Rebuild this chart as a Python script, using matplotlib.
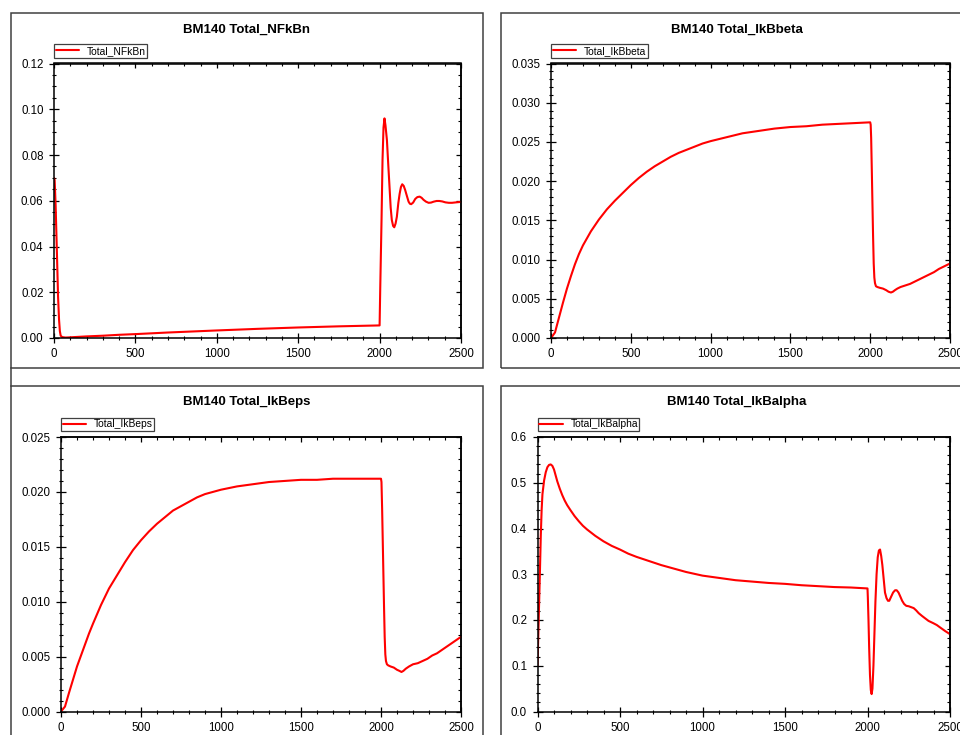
import matplotlib
matplotlib.use("Agg")
import matplotlib.pyplot as plt
from matplotlib.ticker import MultipleLocator, FormatStrFormatter
from matplotlib.patches import Rectangle
from matplotlib.lines import Line2D

plt.rcParams['font.family'] = ['Liberation Sans', 'DejaVu Sans']

# ---------------- data ----------------
t_nfkbn = [0, 4, 10, 18, 25, 31, 36, 41, 50, 70, 100, 200, 300, 400, 500, 700, 1000, 1250,
           1500, 1750, 2000, 2004, 2012, 2018, 2024, 2030, 2036, 2045, 2053, 2061, 2068, 2075,
           2083, 2090, 2098, 2106, 2115, 2123, 2131, 2139, 2148, 2157, 2168, 2178, 2186, 2194,
           2206, 2219, 2232, 2246, 2258, 2270, 2285, 2301, 2316, 2332, 2350, 2367, 2385, 2404,
           2425, 2445, 2470, 2500]
v_nfkbn = [0.070, 0.069, 0.058, 0.037, 0.018, 0.008, 0.003, 0.001, 0.0004, 0.0002, 0.0003,
           0.0007, 0.0010, 0.0014, 0.0017, 0.0024, 0.0033, 0.0040, 0.0046, 0.0051, 0.0055,
           0.022, 0.052, 0.078, 0.092, 0.096, 0.093, 0.0865, 0.076, 0.066, 0.057, 0.0516,
           0.049, 0.0484, 0.050, 0.053, 0.059, 0.063, 0.066, 0.0672, 0.0665, 0.0647, 0.062,
           0.0596, 0.0587, 0.0585, 0.0592, 0.0608, 0.0616, 0.0618, 0.0613, 0.0604, 0.0596,
           0.0591, 0.0592, 0.0596, 0.0599, 0.0599, 0.0597, 0.0593, 0.0591, 0.0591, 0.0593,
           0.0595]

t_beta = [0, 25, 50, 75, 100, 125, 150, 175, 200, 250, 300, 350, 400, 450, 500, 550, 600,
          650, 700, 750, 800, 850, 900, 950, 1000, 1100, 1200, 1300, 1400, 1500, 1600, 1700,
          1800, 1900, 2000, 2003, 2006, 2010, 2014, 2018, 2022, 2026, 2030, 2036, 2045, 2060,
          2080, 2100, 2115, 2130, 2142, 2155, 2170, 2190, 2220, 2250, 2280, 2310, 2340, 2370,
          2400, 2430, 2460, 2500]
v_beta = [0.0, 0.0007, 0.0026, 0.0045, 0.0063, 0.0079, 0.0094, 0.0107, 0.0118, 0.0136,
          0.0151, 0.0164, 0.0175, 0.0185, 0.0195, 0.0204, 0.0212, 0.0219, 0.0225, 0.0231,
          0.0236, 0.0240, 0.0244, 0.0248, 0.0251, 0.0256, 0.0261, 0.0264, 0.0267, 0.0269,
          0.0270, 0.0272, 0.0273, 0.0274, 0.0275, 0.0272, 0.0255, 0.0215, 0.0172, 0.0130,
          0.0095, 0.0077, 0.0070, 0.0066, 0.0065, 0.0064, 0.0063, 0.0061, 0.0059, 0.0058,
          0.0059, 0.0061, 0.0063, 0.0065, 0.0067, 0.0069, 0.0072, 0.0075, 0.0078, 0.0081,
          0.0084, 0.0088, 0.0091, 0.0095]

t_eps = [0, 25, 50, 75, 100, 125, 150, 175, 200, 250, 300, 350, 400, 450, 500, 550, 600, 650,
         700, 750, 800, 850, 900, 950, 1000, 1100, 1200, 1300, 1400, 1500, 1600, 1700, 1800,
         1900, 2000, 2003, 2007, 2011, 2015, 2019, 2023, 2027, 2031, 2037, 2045, 2060, 2080,
         2100, 2115, 2128, 2140, 2155, 2175, 2200, 2230, 2260, 2290, 2320, 2350, 2380, 2410,
         2440, 2470, 2500]
v_eps = [0.0, 0.00045, 0.0017, 0.0029, 0.0041, 0.0051, 0.0061, 0.0071, 0.0080, 0.0097,
         0.0112, 0.0124, 0.0136, 0.0147, 0.0156, 0.0164, 0.0171, 0.0177, 0.0183, 0.0187,
         0.0191, 0.0195, 0.0198, 0.0200, 0.0202, 0.0205, 0.0207, 0.0209, 0.0210, 0.0211,
         0.0211, 0.0212, 0.0212, 0.0212, 0.0212, 0.0209, 0.0185, 0.0155, 0.0125, 0.0095,
         0.0068, 0.0052, 0.0046, 0.0043, 0.0042, 0.0041, 0.0040, 0.0038, 0.0037, 0.0036,
         0.0037, 0.0039, 0.0041, 0.0043, 0.0044, 0.0046, 0.0048, 0.0051, 0.0053, 0.0056,
         0.0059, 0.0062, 0.0065, 0.0068]

t_alpha = [0, 5, 10, 15, 20, 25, 30, 40, 50, 60, 70, 80, 90, 100, 110, 120, 135, 150, 165,
           180, 200, 225, 250, 275, 300, 350, 400, 450, 500, 550, 600, 650, 700, 750, 800, 850,
           900, 950, 1000, 1100, 1200, 1300, 1400, 1500, 1600, 1700, 1800, 1900, 2000, 2002,
           2006, 2010, 2015, 2020, 2025, 2030, 2036, 2042, 2048, 2055, 2062, 2069, 2076, 2083,
           2090, 2098, 2106, 2115, 2124, 2132, 2142, 2155, 2167, 2177, 2188, 2198, 2210, 2222,
           2235, 2250, 2265, 2280, 2295, 2310, 2330, 2348, 2370, 2399, 2420, 2439, 2470, 2500]
v_alpha = [0.10, 0.17, 0.24, 0.31, 0.385, 0.44, 0.475, 0.505, 0.523, 0.534, 0.539, 0.540,
           0.537, 0.529, 0.516, 0.503, 0.487, 0.473, 0.461, 0.451, 0.440, 0.427, 0.416, 0.406,
           0.398, 0.384, 0.372, 0.362, 0.354, 0.345, 0.338, 0.332, 0.326, 0.320, 0.315, 0.310,
           0.305, 0.301, 0.297, 0.292, 0.287, 0.284, 0.281, 0.279, 0.276, 0.274, 0.272, 0.271,
           0.269, 0.25, 0.20, 0.14, 0.08, 0.047, 0.038, 0.05, 0.10, 0.17, 0.24, 0.30, 0.337,
           0.352, 0.354, 0.34, 0.32, 0.29, 0.26, 0.248, 0.242, 0.242, 0.250, 0.260, 0.265,
           0.265, 0.260, 0.252, 0.242, 0.235, 0.231, 0.230, 0.228, 0.226, 0.221, 0.215, 0.209,
           0.204, 0.198, 0.193, 0.189, 0.184, 0.176, 0.169]

titles = ["BM140 Total_NFkBn", "BM140 Total_IkBbeta", "BM140 Total_IkBeps", "BM140 Total_IkBalpha"]
labels = ["Total_NFkBn", "Total_IkBbeta", "Total_IkBeps", "Total_IkBalpha"]
x_ticks = [0, 500, 1000, 1500, 2000, 2500]

# ---------------- layout ----------------
W, H = 960, 735
fig = plt.figure(figsize=(W / 100, H / 100), dpi=100)

def fx(x):
    return x / W

def fy(y):
    return 1 - y / H

frame_col = '#404040'
frames = [(11, 13, 483, 368), (501, 13, 975, 368), (11, 386, 483, 760), (501, 386, 975, 760)]
for (l, t, r, b) in frames:
    fig.add_artist(Rectangle((fx(l), fy(b)), fx(r) - fx(l), fy(t) - fy(b),
                             transform=fig.transFigure, fill=False,
                             edgecolor=frame_col, linewidth=1.1, clip_on=False))
fig.add_artist(Line2D([fx(11), fx(11)], [fy(368), fy(386)], transform=fig.transFigure,
                      color=frame_col, linewidth=1.1))

axes_px = [(54, 63.5, 461, 338), (551, 63.5, 950, 338), (61, 437, 461, 711.5), (537.5, 437, 950, 711.5)]
title_pos = [(247, 29.5), (737, 29.5), (247, 402), (737, 402)]

series = [(t_nfkbn, v_nfkbn), (t_beta, v_beta), (t_eps, v_eps), (t_alpha, v_alpha)]
ylims = [(0, 0.12), (0, 0.035), (0, 0.025), (0, 0.6)]
ymaj = [0.02, 0.005, 0.005, 0.1]
ymin = [0.005, 0.001, 0.001, 0.02]
yfmt = ['%.2f', '%.3f', '%.3f', '%.1f']

for i in range(4):
    l, t, r, b = axes_px[i]
    ax = fig.add_axes([fx(l), fy(b), fx(r) - fx(l), fy(t) - fy(b)])
    tt, vv = series[i]
    ax.plot(tt, vv, color='#ff0000', linewidth=1.5, label=labels[i],
            solid_joinstyle='round', solid_capstyle='round')
    ax.set_xlim(0, 2500)
    ax.set_ylim(*ylims[i])
    ax.set_xticks(x_ticks)
    ax.xaxis.set_minor_locator(MultipleLocator(100))
    ax.yaxis.set_major_locator(MultipleLocator(ymaj[i]))
    ax.yaxis.set_minor_locator(MultipleLocator(ymin[i]))
    ax.yaxis.set_major_formatter(FormatStrFormatter(yfmt[i]))
    ax.xaxis.set_major_formatter(FormatStrFormatter('%d'))
    for s in ax.spines.values():
        s.set_linewidth(1.1)
        s.set_color('black')
    ax.tick_params(which='major', direction='inout', length=6.5, width=0.9,
                   labelsize=8.3, colors='black')
    ax.tick_params(which='minor', direction='inout', length=3.5, width=0.8)
    ax.tick_params(axis='y', which='major', pad=4.3)
    ax.tick_params(axis='x', which='major', pad=4.3)
    sx = ax.secondary_xaxis('top')
    sx.set_xticks(x_ticks)
    sx.xaxis.set_minor_locator(MultipleLocator(100))
    sx.tick_params(which='major', direction='in', length=3.5, width=0.9, labeltop=False)
    sx.tick_params(which='minor', direction='in', length=2.2, width=0.8)
    sx.spines['top'].set_linewidth(1.1)
    sy = ax.secondary_yaxis('right')
    sy.yaxis.set_major_locator(MultipleLocator(ymaj[i]))
    sy.yaxis.set_minor_locator(MultipleLocator(ymin[i]))
    sy.tick_params(which='major', direction='in', length=3.5, width=0.9, labelright=False)
    sy.tick_params(which='minor', direction='in', length=2.2, width=0.8)
    sy.spines['right'].set_linewidth(1.1)

    leg = ax.legend(loc='lower left', bbox_to_anchor=(0, 1.0 + 6 / (b - t)), borderaxespad=0,
                    fontsize=7.4, frameon=True, fancybox=False, borderpad=0.15,
                    handlelength=2.3, handletextpad=0.75, framealpha=1)
    leg.get_frame().set_edgecolor(frame_col)
    leg.get_frame().set_linewidth(0.9)

    tx, ty = title_pos[i]
    fig.text(fx(tx), fy(ty), titles[i], ha='center', va='center', fontsize=9.5,
             fontweight='bold')

fig.savefig('out.png', dpi=100, facecolor='white')
